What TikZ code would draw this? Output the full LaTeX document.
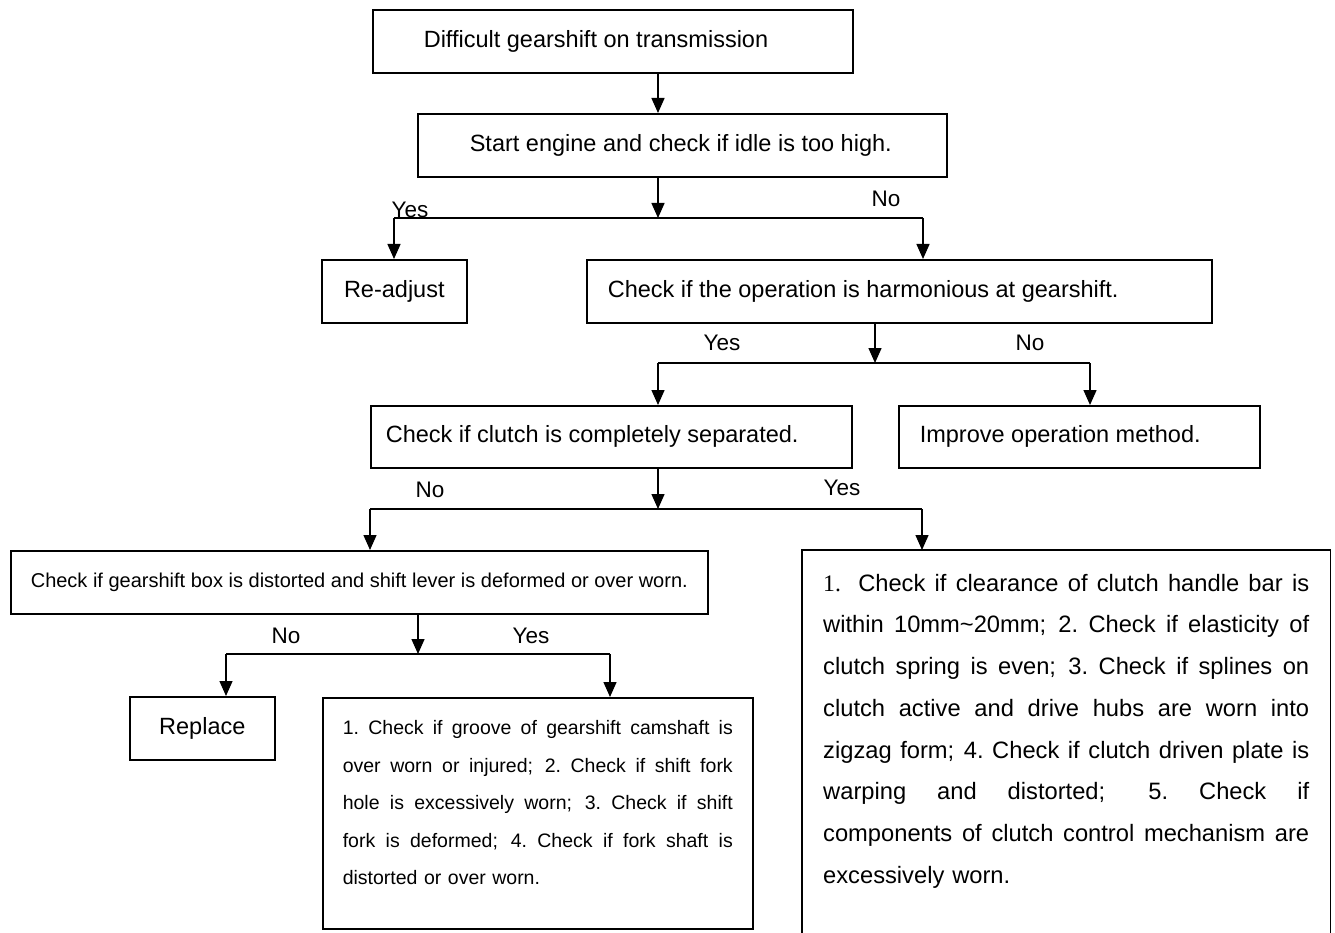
\documentclass[tikz,border=0pt]{standalone}
\usepackage{fontspec}
\setmainfont{Liberation Sans}
\newfontfamily\numserif{Liberation Serif}
\usetikzlibrary{arrows.meta}
\newcommand\jline[2]{\leavevmode\hbox to #1{\spaceskip=0.28em plus 1fil\xspaceskip=\spaceskip #2}}
\begin{document}
\begin{tikzpicture}[x=1pt,y=-1pt,
  box/.style={draw, line width=1.6pt, inner sep=0pt, anchor=north west, font=\fontsize{23.5}{28}\selectfont},
  lbl/.style={inner sep=0pt, font=\fontsize{22.5}{26}\selectfont},
  conn/.style={line width=1.4pt},
  arr/.style={line width=1.4pt, -{Triangle[width=13pt,length=15pt]}},
  outline/.style={line width=1.6pt}]
\useasboundingbox (0,0) rectangle (1335,933);
\fill[white] (0,0) rectangle (1335,933);

% boxes
\node[box, minimum width=480pt, minimum height=63pt] (b1) at (372,9)
  {\makebox[378pt][l]{Difficult gearshift on transmission}};
\node[box, minimum width=529pt, minimum height=63pt] (b2) at (417,113)
  {\makebox[425pt][l]{Start engine and check if idle is too high.}};
\node[box, minimum width=145pt, minimum height=63pt] (ra) at (321,259) {Re-adjust};
\node[box, minimum width=625pt, minimum height=63pt] (hb) at (586,259)
  {\makebox[583pt][l]{Check if the operation is harmonious at gearshift.}};
\node[box, minimum width=481pt, minimum height=62pt] (cb) at (370,405)
  {\makebox[451pt][l]{Check if clutch is completely separated.}};
\node[box, minimum width=361pt, minimum height=62pt] (ib) at (898,405)
  {\makebox[319pt][l]{Improve operation method.}};
\node[box, minimum width=697pt, minimum height=63pt, font=\fontsize{20}{24}\selectfont] (gb) at (10,550)
  {Check if gearshift box is distorted and shift lever is deformed or over worn.};
\node[box, minimum width=145pt, minimum height=63pt] (rp) at (129,696) {Replace};
\node[box, minimum width=430pt, text width=390pt, align=left,
      font=\fontsize{19.5}{37.5}\selectfont] (nb) at (322,697)
  {\jline{390pt}{\rule{0pt}{37pt}1. Check if groove of gearshift camshaft is}\\
   \jline{390pt}{over worn or injured; 2. Check if shift fork}\\
   \jline{390pt}{hole is excessively worn; 3. Check if shift}\\
   \jline{390pt}{fork is deformed; 4. Check if fork shaft is}\\
   distorted or over worn.\rule[-44pt]{0pt}{44pt}};
\node[anchor=north west, inner xsep=21pt, inner ysep=0pt, text width=486pt, align=left,
      font=\fontsize{23.7}{41.7}\selectfont] (rb) at (802,550)
  {\jline{486pt}{\rule{0pt}{41pt}{\numserif 1.}\hspace{8pt} Check if clearance of clutch handle bar is}\\
   \jline{486pt}{within 10mm\textasciitilde20mm; 2. Check if elasticity of}\\
   \jline{486pt}{clutch spring is even; 3. Check if splines on}\\
   \jline{486pt}{clutch active and drive hubs are worn into}\\
   \jline{486pt}{zigzag form; 4. Check if clutch driven plate is}\\
   \jline{486pt}{warping and distorted; 5. Check if}\\
   \jline{486pt}{components of clutch control mechanism are}\\
   excessively worn.};
\coordinate (bot) at (0,933);
\draw[outline] (rb.north west |- bot) -- (rb.north west) -- (rb.north east) -- (rb.north east |- bot);

% labels
\node[lbl] (y1) at (410,210) {Yes};
\node[lbl] (n1) at (886,199) {No};
\node[lbl] (y2) at (722,343) {Yes};
\node[lbl] (n2) at (1030,343) {No};
\node[lbl] (n3) at (430,490) {No};
\node[lbl] (y3) at (842,488) {Yes};
\node[lbl] (n4) at (286,636) {No};
\node[lbl] (y4) at (531,636) {Yes};

% connectors
\coordinate (j0) at (658,0);
\coordinate (j1) at (658,218);
\coordinate (l1) at (394,218);
\coordinate (r1) at (923,218);
\draw[arr] (b1.south -| j0) -- (b2.north -| j0);
\draw[arr] (b2.south -| j1) -- (j1);
\draw[conn] (l1) -- (r1);
\draw[arr] (l1) -- (l1 |- ra.north);
\draw[arr] (r1) -- (r1 |- hb.north);

\coordinate (j2) at (875,363);
\coordinate (l2) at (658,363);
\coordinate (r2) at (1090,363);
\draw[arr] (hb.south -| j2) -- (j2);
\draw[conn] (l2) -- (r2);
\draw[arr] (l2) -- (l2 |- cb.north);
\draw[arr] (r2) -- (r2 |- ib.north);

\coordinate (j3) at (658,509);
\coordinate (l3) at (370,509);
\coordinate (r3) at (922,509);
\draw[arr] (cb.south -| j3) -- (j3);
\draw[conn] (l3) -- (r3);
\draw[arr] (l3) -- (l3 |- gb.north);
\draw[arr] (r3) -- (r3 |- rb.north);

\coordinate (j4) at (418,654);
\coordinate (l4) at (226,654);
\coordinate (r4) at (610,654);
\draw[arr] (gb.south -| j4) -- (j4);
\draw[conn] (l4) -- (r4);
\draw[arr] (l4) -- (l4 |- rp.north);
\draw[arr] (r4) -- (r4 |- nb.north);
\end{tikzpicture}
\end{document}
